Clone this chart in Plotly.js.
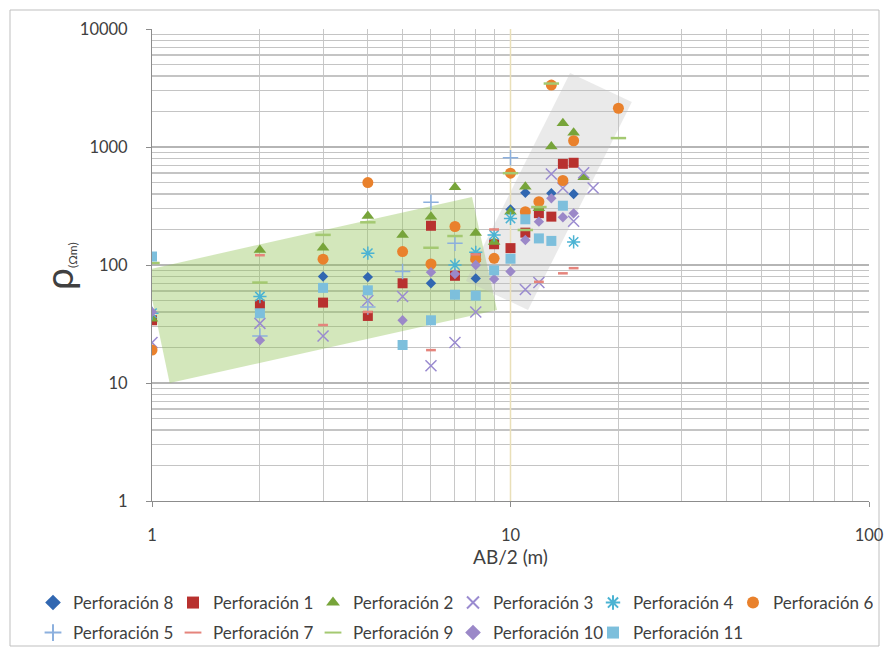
<!DOCTYPE html>
<html>
<head>
<meta charset="utf-8">
<script src="https://cdn.plot.ly/plotly-3.0.1.min.js"></script>
<style>html,body{margin:0;padding:0;background:#fff;}#chart{width:885px;height:652px;}</style>
</head>
<body>
<div id="chart"></div>
<script>
// ---- data ----
const p8x = [3,4,6,8,10,11,13,15];
const p8y = [80,79,70,77,296,410,405,400];
const p1x = [1,2,3,4,5,6,7,8,9,10,11,12,13,14,15];
const p1y = [34,46,48,37,70,215,81,117,150,139,188,275,257,720,735];
const p2x = [1,2,3,4,5,6,7,8,9,10,11,12,13,14,15,16];
const p2y = [35,134,140,260,180,257,455,187,157,283,460,302,1010,1590,1320,553];
const p3x = [1,2,3,4,5,6,7,8,11,12,13,14,15,16,17];
const p3y = [22,32,25,50,54,14,22,40,62,71,590,450,235,606,450];
const p4x = [1,2,4,7,8,9,10,15];
const p4y = [39,54,126,100,128,180,248,157];
const p6x = [1,3,4,5,6,7,8,9,10,11,12,13,14,15,20];
const p6y = [19,112,500,130,102,212,112,114,600,283,344,3350,520,1130,2130];
const p5x = [2,4,5,6,7,10];
const p5y = [25,44,88,340,153,810];
const p7x = [2,3,4,6,8,9,12,14,15];
const p7y = [121,31,40,19,123,200,72,85,94];
const p9x = [1,2,3,4,6,7,10,11,12,13,20];
const p9y = [104,71,180,230,140,176,600,198,310,3450,1190];
const p10x = [1,2,5,6,7,8,9,10,11,12,13,14,15];
const p10y = [40,23,34,87,84,100,76,88,163,233,367,254,274];
const p11x = [1,2,3,4,5,6,7,8,9,10,11,12,13,14];
const p11y = [118,39,64,61,21,34,56,55,90,113,244,168,160,318];

// highlighted zones (corners in data units)
const greenZoneX = [0.962, 7.81, 9.17, 1.12];
const greenZoneY = [90.7, 377, 41.6, 10.0];
const grayZoneX = [14.66, 21.8, 11.19, 7.51];
const grayZoneY = [4236, 2405, 41.6, 73.2];

const xTicks = [1, 10, 100];
const yTicks = [1, 10, 100, 1000, 10000];

const FONT = 'Lato, "Liberation Sans", sans-serif';

function series(name, x, y, symbol, color, size, lineW, legendId) {
  const mk = {symbol: symbol, color: color, size: size};
  if (lineW) mk.line = {color: color, width: lineW};
  return {type: 'scatter', mode: 'markers', name: name, x: x, y: y, marker: mk,
          legend: legendId, hoverinfo: 'x+y+name'};
}

const zones = [
  {type:'scatter', mode:'none', x: greenZoneX, y: greenZoneY, fill:'toself',
   fillcolor:'rgba(146,196,86,0.40)', showlegend:false, hoverinfo:'skip'},
  {type:'scatter', mode:'none', x: grayZoneX, y: grayZoneY, fill:'toself',
   fillcolor:'rgba(190,190,190,0.33)', showlegend:false, hoverinfo:'skip'},
  {type:'scatter', mode:'lines', x:[10,10], y:[1,10000], line:{color:'#e9dfb8', width:1.5},
   showlegend:false, hoverinfo:'skip'}
];

const traces = zones.concat([
  series('Perforación 8', p8x, p8y, 'diamond', '#3167b1', 8, 0, 'legend'),
  series('Perforación 1', p1x, p1y, 'square', '#b8312f', 10, 0, 'legend'),
  series('Perforación 2', p2x, p2y, 'triangle-up', '#77a43a', 11, 0, 'legend'),
  series('Perforación 3', p3x, p3y, 'x-thin-open', '#9a8bd0', 11, 1.5, 'legend'),
  series('Perforación 4', p4x, p4y, 'asterisk-open', '#4bb3d3', 11, 1.5, 'legend'),
  series('Perforación 6', p6x, p6y, 'circle', '#e9812c', 11, 0, 'legend'),
  series('Perforación 5', p5x, p5y, 'cross-thin-open', '#8cb0de', 11, 1.5, 'legend2'),
  series('Perforación 7', p7x, p7y, 'line-ew-open', '#e5847c', 7, 2.5, 'legend2'),
  series('Perforación 9', p9x, p9y, 'line-ew-open', '#a4c971', 11, 2.5, 'legend2'),
  series('Perforación 10', p10x, p10y, 'diamond', '#9b88c8', 8, 0, 'legend2'),
  series('Perforación 11', p11x, p11y, 'square', '#7dbfdc', 10, 0, 'legend2'),
  // invisible spacer entry (reuses series 11, fully transparent) so the
  // last real entry of the second legend row is not clipped
  {type:'scatter', mode:'markers', name:'\u00a0', x: p11x, y: p11y, legend:'legend2',
   marker:{color:'rgba(0,0,0,0)', size:1, opacity:0}, hoverinfo:'skip'}
]);

const W = 885, H = 652;
const M = {l:152, r:16, t:29, b:151, autoexpand:false};
const pw = W - M.l - M.r, ph = H - M.t - M.b;
const px2paperX = function(px) { return (px - M.l) / pw; };
const px2paperY = function(py) { return (H - M.b - py) / ph; };

const legendCommon = {
  orientation:'h', xref:'paper', yref:'paper', xanchor:'left', yanchor:'top',
  x: px2paperX(33),
  entrywidth: 95, entrywidthmode:'pixels',
  font:{size:17, color:'#404040'}, tracegroupgap:0, itemsizing:'constant',
  bgcolor:'rgba(0,0,0,0)', borderwidth:0
};

const layout = {
  width: W, height: H,
  margin: M,
  paper_bgcolor:'#fff', plot_bgcolor:'#fff',
  font: {family: FONT, color:'#404040', size:15},
  showlegend: true,
  xaxis: {
    type:'log', range:[0, 2],
    tickvals: xTicks, ticktext: xTicks.map(String),
    ticks:'outside', ticklen:5, tickcolor:'#8c8c8c',
    ticklabelstandoff: 14,
    showline:true, linecolor:'#8c8c8c', linewidth:1,
    showgrid:true, gridcolor:'#bcbcbc', gridwidth:1,
    minor:{dtick:'D1', showgrid:true, gridcolor:'#c8c8c8', gridwidth:1, ticks:''},
    zeroline:false,
    tickfont:{size:16.5, color:'#404040'},
    title:{text:'AB/2 (m)', font:{size:19, color:'#404040'}, standoff:0}
  },
  yaxis: {
    type:'log', range:[0, 4],
    tickvals: yTicks, ticktext: yTicks.map(String),
    ticks:'outside', ticklen:5, tickcolor:'#8c8c8c',
    ticklabelstandoff: 15,
    showline:true, linecolor:'#8c8c8c', linewidth:1,
    showgrid:true, gridcolor:'#b5b5b5', gridwidth:1.5,
    minor:{dtick:'D1', showgrid:true, gridcolor:'#c4c4c4', gridwidth:1.5, ticks:''},
    zeroline:false,
    tickfont:{size:16.5, color:'#404040'}
  },
  annotations: [
    {xref:'paper', yref:'paper', x: px2paperX(58), y: px2paperY(266),
     xanchor:'center', yanchor:'middle', textangle:-90, showarrow:false,
     text:'ρ<span style="font-size:17px"><sub>(Ωm)</sub></span>',
     font:{family: FONT, size:39, color:'#404040'}}
  ],
  legend: Object.assign({}, legendCommon, {y: px2paperY(585)}),
  legend2: Object.assign({}, legendCommon, {y: px2paperY(615)}),
  shapes: [
    {type:'rect', xref:'paper', yref:'paper',
     x0: px2paperX(10), x1: px2paperX(879), y0: px2paperY(646), y1: px2paperY(10),
     line:{color:'#bfbfbf', width:1}, fillcolor:'rgba(0,0,0,0)', layer:'below'}
  ]
};

Plotly.newPlot('chart', traces, layout, {displayModeBar:false, staticPlot:true});
</script>
</body>
</html>
